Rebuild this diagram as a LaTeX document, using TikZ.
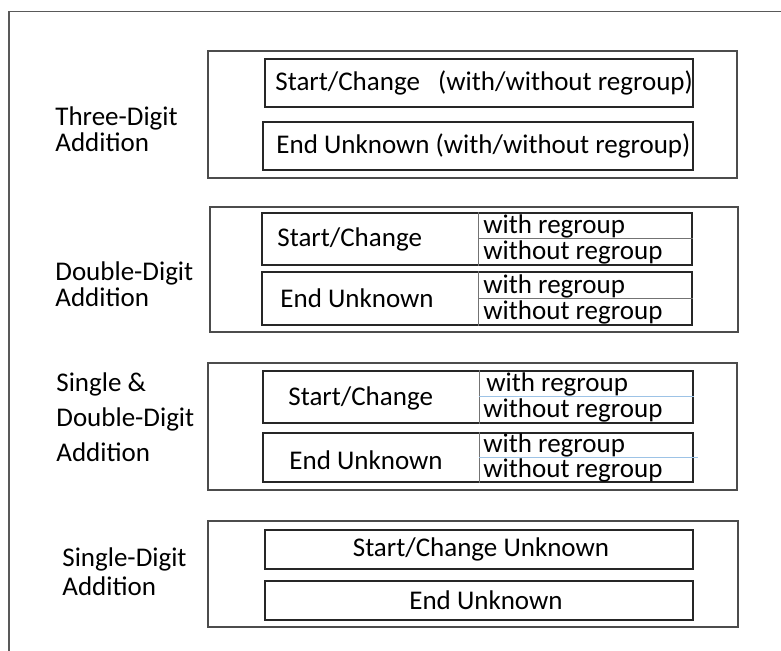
\documentclass[tikz,border=0pt]{standalone}
\usepackage{fontspec}
\setmainfont{Carlito}
\usepackage{tikz}
\usetikzlibrary{positioning}
\definecolor{splitblue}{RGB}{157,195,230}

\tikzset{
  groupbox/.style={draw=black!70, line width=0.7pt, minimum width=264.5pt, inner sep=0pt},
  itembox/.style={draw=black!85, line width=0.9pt, minimum width=214pt, inner sep=0pt},
  divline/.style={draw=black!55, line width=0.5pt},
  blueline/.style={draw=splitblue, line width=0.5pt},
  lbl/.style={align=left, anchor=west, inner sep=0pt, font=\fontsize{13.5}{#1}\selectfont},
  lbl/.default=14.5,
  txt/.style={inner sep=0pt, font=\fontsize{13.5}{16}\selectfont},
}

\begin{document}
\begin{tikzpicture}[x=0.5pt, y=-0.5pt]
  \useasboundingbox (0,0) rectangle (781,651);
  % Rahmen
  \coordinate (fr-bl) at (9,651);
  \coordinate (fr-tl) at (9,11.5);
  \coordinate (fr-tr) at (781,11.5);
  \draw[black!65, line width=0.7pt] (fr-bl) -- (fr-tl) -- (fr-tr);

  % Three-Digit
  \node[lbl=13] (three-lbl) at (55,129.5) {Three-Digit\\Addition};
  \node[groupbox, minimum height=63.5pt] (three) at (472.5,114.5) {};
  \node[itembox, minimum height=24pt] (three-sc) at (479,83) {};
  \node[txt, anchor=west] (three-sc-t) at (275,83) {Start/Change\ \ \ (with/without regroup)};
  \node[itembox, minimum height=24pt, minimum width=215pt] (three-eu) at (478,146) {};
  \node[txt, anchor=west] (three-eu-t) at (276,146) {End Unknown (with/without regroup)};

  % Double-Digit
  \node[lbl=13] (double-lbl) at (55,284) {Double-Digit\\Addition};
  \node[groupbox, minimum width=264pt, minimum height=62.5pt] (double) at (474,269.5) {};
  \node[itembox, minimum width=215pt, minimum height=26pt] (double-sc) at (477,239) {};
  \coordinate (double-sc-d) at (478,239);
  \draw[divline] (double-sc-d |- double-sc.north) -- (double-sc-d |- double-sc.south);
  \draw[divline] (double-sc-d) -- (double-sc-d -| double-sc.east);
  \node[txt, anchor=west] (double-sc-t) at (277,239) {Start/Change};
  \node[txt, anchor=west] (double-sc-w) at (483,226) {with regroup};
  \node[txt, anchor=west] (double-sc-wo) at (483,252) {without regroup};
  \node[itembox, minimum width=215pt, minimum height=26.5pt] (double-eu) at (477,298.5) {};
  \coordinate (double-eu-d) at (478,299);
  \draw[divline] (double-eu-d |- double-eu.north) -- (double-eu-d |- double-eu.south);
  \draw[divline] (double-eu-d) -- (double-eu-d -| double-eu.east);
  \node[txt, anchor=west] (double-eu-t) at (280,298) {End Unknown};
  \node[txt, anchor=west] (double-eu-w) at (483,286) {with regroup};
  \node[txt, anchor=west] (double-eu-wo) at (483,312) {without regroup};

  % Single & Double-Digit
  \node[lbl=17.5] (mixed-lbl) at (56,417) {Single \&\\Double-Digit\\Addition};
  \node[groupbox, minimum height=63.5pt] (mixed) at (472.5,426.5) {};
  \node[itembox, minimum width=215pt, minimum height=26pt] (mixed-sc) at (478,397) {};
  \coordinate (mixed-sc-d) at (479,397);
  \draw[divline] (mixed-sc-d |- mixed-sc.north) -- (mixed-sc-d |- mixed-sc.south);
  \draw[blueline] (mixed-sc-d) -- (mixed-sc-d -| mixed-sc.east);
  \node[txt, anchor=west] (mixed-sc-t) at (288,398) {Start/Change};
  \node[txt, anchor=west] (mixed-sc-w) at (486,384) {with regroup};
  \node[txt, anchor=west] (mixed-sc-wo) at (483,410) {without regroup};
  \node[itembox, minimum width=215pt, minimum height=24.5pt] (mixed-eu) at (478,457.5) {};
  \coordinate (mixed-eu-d) at (479,458);
  \draw[divline] (mixed-eu-d |- mixed-eu.north) -- (mixed-eu-d |- mixed-eu.south);
  \draw[blueline] (mixed-eu-d) -- ([xshift=2pt]mixed-eu-d -| mixed-eu.east);
  \node[txt, anchor=west] (mixed-eu-t) at (289,460) {End Unknown};
  \node[txt, anchor=west] (mixed-eu-w) at (483,445.5) {with regroup};
  \node[txt, anchor=west] (mixed-eu-wo) at (483,470) {without regroup};

  % Single-Digit
  \node[lbl] (single-lbl) at (62,571.5) {Single-Digit\\Addition};
  \node[groupbox, minimum width=265pt, minimum height=53pt] (single) at (473,574) {};
  \node[itembox, minimum height=19.5pt] (single-sc) at (479,549.5) {};
  \node[txt] (single-sc-t) at (481,549.5) {Start/Change Unknown};
  \node[itembox, minimum height=19.5pt] (single-eu) at (479,600.5) {};
  \node[txt] (single-eu-t) at (486,600.5) {End Unknown};
\end{tikzpicture}
\end{document}
